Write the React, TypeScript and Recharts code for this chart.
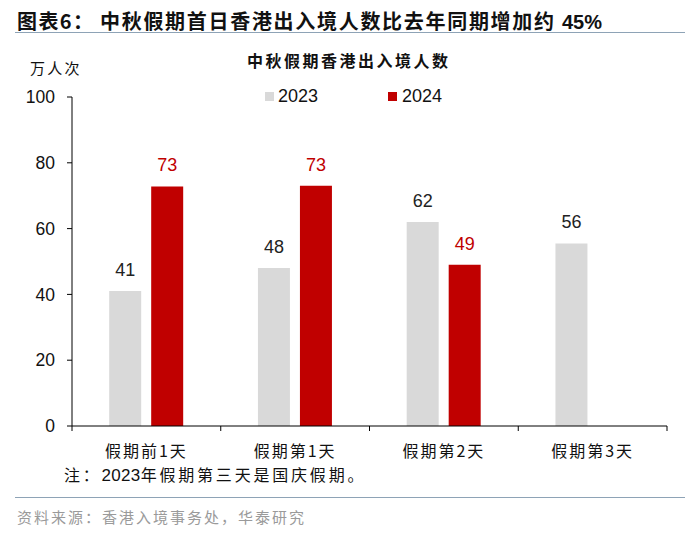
import React from 'react';
import { BarChart, Bar, XAxis, YAxis, LabelList } from 'recharts';

const days = ['假期前1天', '假期第1天', '假期第2天', '假期第3天'];
const visitors2023 = [41, 48, 62, 55.5];
const visitors2024: (number | null)[] = [72.8, 73, 49, null];
const yTicks = [0, 20, 40, 60, 80, 100];

const GRAY = '#d9d9d9';
const RED = '#c00000';
const LINE_BLUE = '#8ea3b6';
const CJK = '"Noto Sans CJK SC", sans-serif';
const LATIN = '"Liberation Sans", Arial, sans-serif';

const data = days.map((day, i) => ({
  day,
  y2023: visitors2023[i],
  y2024: visitors2024[i],
}));

// ticks sit on the category borders, labels stay in the middle
const CategoryTick = (props: any) => {
  const { x, y, payload, index, visibleTicksCount } = props;
  const half = payload.offset || 0;
  const isLast = index === (visibleTicksCount ?? days.length) - 1;
  return (
    <g>
      <line x1={x - half} x2={x - half} y1={y - 8} y2={y - 3} stroke="#000" />
      {isLast && <line x1={x + half} x2={x + half} y1={y - 8} y2={y - 3} stroke="#000" />}
      <text x={x} y={y + 23} textAnchor="middle" fontSize={16} letterSpacing={2} fontFamily={CJK} fill="#111">
        {payload.value}
      </text>
    </g>
  );
};

const roundLabel = (v: any) => (v == null ? '' : Math.round(v));

const App: React.FC = () => {
  return (
    <div style={{ position: 'absolute', left: 0, top: 0, width: 700, height: 535, background: '#fff' }}>
      <div style={{ position: 'absolute', left: 17, top: 9, lineHeight: '24px', fontFamily: CJK, fontWeight: 700, fontSize: 20, letterSpacing: 1.4, color: '#111', whiteSpace: 'nowrap' }}>
        图表6：
      </div>
      <div style={{ position: 'absolute', left: 100, top: 9, lineHeight: '24px', fontFamily: CJK, fontWeight: 700, fontSize: 20, letterSpacing: 1.7, color: '#111', whiteSpace: 'nowrap' }}>
        中秋假期首日香港出入境人数比去年同期增加约 <span style={{ fontFamily: LATIN, letterSpacing: 0 }}>45%</span>
      </div>
      <div style={{ position: 'absolute', left: 15, top: 32, width: 670, height: 0, borderTop: `1.5px solid ${LINE_BLUE}` }} />
      <div style={{ position: 'absolute', left: 247, top: 49, lineHeight: '22px', fontFamily: CJK, fontWeight: 700, fontSize: 16, letterSpacing: 2.5, color: '#111', whiteSpace: 'nowrap' }}>
        中秋假期香港出入境人数
      </div>
      <div style={{ position: 'absolute', left: 30, top: 58, lineHeight: '20px', fontFamily: CJK, fontSize: 15, letterSpacing: 2.3, color: '#111' }}>万人次</div>

      <div style={{ position: 'absolute', left: 265, top: 85, height: 22, display: 'flex', alignItems: 'center', fontFamily: LATIN, fontSize: 18, color: '#111' }}>
        <span style={{ width: 9, height: 9, background: GRAY, display: 'inline-block', marginRight: 4 }} />2023
      </div>
      <div style={{ position: 'absolute', left: 388, top: 85, height: 22, display: 'flex', alignItems: 'center', fontFamily: LATIN, fontSize: 18, color: '#111' }}>
        <span style={{ width: 9, height: 9, background: RED, display: 'inline-block', marginRight: 5 }} />2024
      </div>

      <div style={{ position: 'absolute', left: 0, top: 0 }}>
        <BarChart
          width={700}
          height={535}
          data={data}
          margin={{ top: 97, right: 33, left: 22, bottom: 79 }}
          barCategoryGap="25%"
          barGap={10}
        >
          <XAxis
            dataKey="day"
            height={30}
            axisLine={{ stroke: '#000' }}
            tickLine={false}
            tick={<CategoryTick />}
            interval={0}
          />
          <YAxis
            width={50}
            domain={[0, 100]}
            ticks={yTicks}
            axisLine={{ stroke: '#000' }}
            tickLine={{ stroke: '#000' }}
            tickSize={5}
            tickMargin={12}
            tick={{ fontSize: 17.5, fontFamily: LATIN, fill: '#111' }}
          />
          <Bar dataKey="y2023" fill={GRAY} isAnimationActive={false}>
            <LabelList
              dataKey="y2023"
              position="top"
              offset={15}
              formatter={roundLabel}
              style={{ fontSize: 18, fontFamily: LATIN, fill: '#222' }}
            />
          </Bar>
          <Bar dataKey="y2024" fill={RED} isAnimationActive={false}>
            <LabelList
              dataKey="y2024"
              position="top"
              offset={15}
              formatter={roundLabel}
              style={{ fontSize: 18, fontFamily: LATIN, fill: RED }}
            />
          </Bar>
        </BarChart>
      </div>

      <div style={{ position: 'absolute', left: 64, top: 463, lineHeight: '22px', fontFamily: CJK, fontSize: 16, letterSpacing: 2.8, color: '#111', whiteSpace: 'nowrap' }}>
        注：<span style={{ fontFamily: LATIN, fontSize: 17, letterSpacing: 0.3 }}>2023</span>年假期第三天是国庆假期。
      </div>
      <div style={{ position: 'absolute', left: 15, top: 497, width: 670, height: 0, borderTop: `1.5px solid ${LINE_BLUE}` }} />
      <div style={{ position: 'absolute', left: 17, top: 506, lineHeight: '22px', fontFamily: CJK, fontSize: 15, letterSpacing: 2, color: '#9a9a9a', whiteSpace: 'nowrap' }}>
        资料来源：香港入境事务处，华泰研究
      </div>
    </div>
  );
};

export default App;
